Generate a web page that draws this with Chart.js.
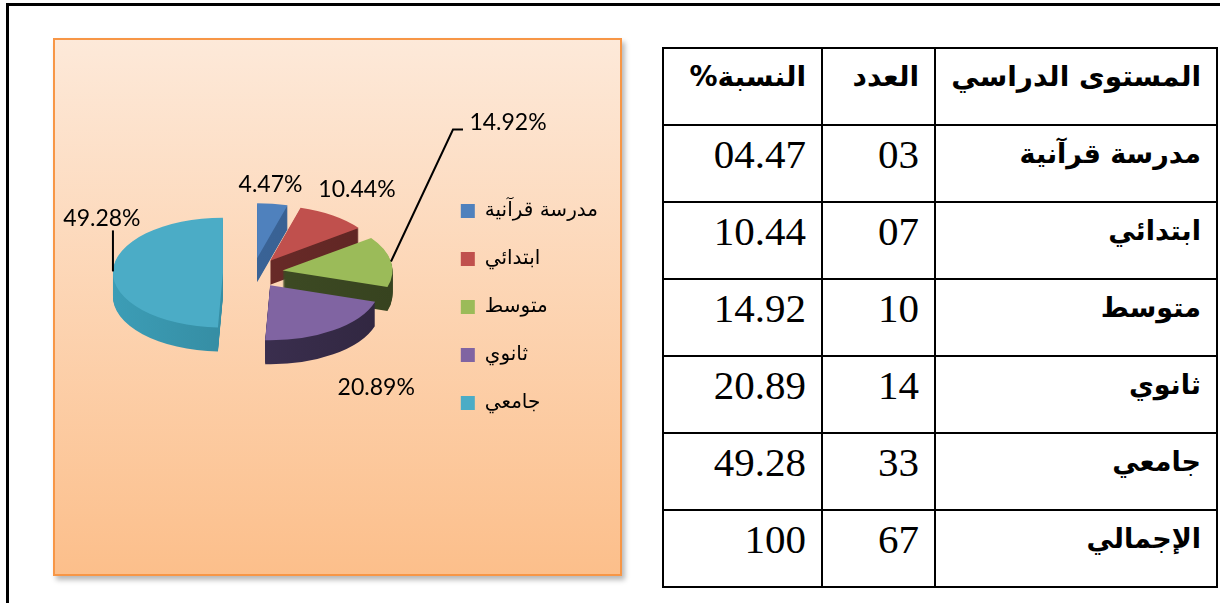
<!DOCTYPE html>
<html>
<head>
<meta charset="utf-8">
<script src="https://cdn.jsdelivr.net/npm/chart.js@4.4.0/dist/chart.umd.min.js"></script>
<style>
  body { margin: 0; width: 1225px; height: 603px; overflow: hidden; position: relative; background: #fff; }
  .rule-top { position: absolute; left: 6px; top: 3px; width: 1214px; height: 3px; background: #000; }
  .rule-left { position: absolute; left: 6px; top: 3px; width: 3px; height: 600px; background: #000; }
  #chartBox {
    position: absolute; left: 53px; top: 38px; width: 565px; height: 534px;
    border: 2px solid #f79646;
    background: linear-gradient(#fde9d9, #fcbf8b);
    box-shadow: 3px 4px 5px rgba(0, 0, 0, 0.28);
  }
  #levelChart { display: block; }
  table {
    position: absolute; left: 662px; top: 47px; width: 554px;
    border-collapse: collapse; table-layout: fixed;
  }
  td { border: 2px solid #000; padding: 4px 15px 0 15px; vertical-align: top; text-align: right; }
  tr { height: 77px; }
  .num { font: 41px "Liberation Serif", serif; }
  .name { font: bold 27px "DejaVu Sans", sans-serif; line-height: 44px; padding-top: 6px; }
  .head { font-size: 28px; }
</style>
</head>
<body>
<div class="rule-top"></div>
<div class="rule-left"></div>
<div id="chartBox"><canvas id="levelChart" width="565" height="534"></canvas></div>
<table id="levelTable" dir="rtl">
  <colgroup><col style="width:282px"><col style="width:113px"><col style="width:159px"></colgroup>
  <tbody></tbody>
</table>

<script>
// education levels, counts and shares
const levels = ['مدرسة قرآنية', 'ابتدائي', 'متوسط', 'ثانوي', 'جامعي'];
const counts = ['03', '07', '10', '14', '33'];
const percents = [4.47, 10.44, 14.92, 20.89, 49.28];
const percentText = ['04.47', '10.44', '14.92', '20.89', '49.28'];
const headers = ['المستوى الدراسي', 'العدد', 'النسبة%'];
const totalRow = ['الإجمالي', '67', '100'];

const topColors = ['#4f81bd', '#c0504d', '#9bbb59', '#8064a2', '#4bacc6'];
// walls: lit side on the left, shaded side on the right
const sideLight = ['#3f6ca3', '#74302d', '#45542a', '#463860', '#3c9db6'];
const sideDark = ['#355b8a', '#5e2523', '#37431f', '#30263f', '#2b7587'];

// fake 3d: squash the pie vertically and stack darker copies underneath
const TILT = 0.5;
const DEPTH = 24;
const EXPLODE = 30;
const LIFT = -34;

// value labels, moved from the outer edge of each slice
const labelShift = [[-2, -19], [24, -26], [117, -139], [43, 57], [-11, -53]];

// table
const tbody = document.querySelector('#levelTable tbody');
function addRow(cells, isHead) {
  const tr = document.createElement('tr');
  cells.forEach((text, i) => {
    const td = document.createElement('td');
    td.className = (i === 0 || isHead) ? 'name' : 'num';
    if (isHead) td.classList.add('head');
    td.textContent = text;
    tr.appendChild(td);
  });
  tbody.appendChild(tr);
}
addRow(headers, true);
levels.forEach((name, i) => addRow([name, counts[i], percentText[i]]));
addRow(totalRow);

function pieMiddle(chart) {
  const a = chart.chartArea;
  return (a.top + a.bottom) / 2;
}

function project(chart, x, y) {
  const cy = pieMiddle(chart);
  return { x: x, y: cy + LIFT + (y - cy) * TILT };
}

function applyTilt(chart, ctx, drop) {
  const cy = pieMiddle(chart);
  ctx.translate(0, cy + LIFT + drop);
  ctx.scale(1, TILT);
  ctx.translate(0, -cy);
}

// copy of an arc pulled out along its middle angle
function slicePiece(arc, fill) {
  const mid = (arc.startAngle + arc.endAngle) / 2;
  const piece = Object.create(arc);
  piece.x = arc.x + Math.cos(mid) * EXPLODE;
  piece.y = arc.y + Math.sin(mid) * EXPLODE;
  piece.options = Object.assign({}, arc.options, { backgroundColor: fill, borderWidth: 0, offset: 0 });
  return piece;
}

function wallFill(ctx, arc, i) {
  const r = arc.outerRadius + EXPLODE;
  const g = ctx.createLinearGradient(arc.x - r, 0, arc.x + r, 0);
  g.addColorStop(0, sideLight[i]);
  g.addColorStop(1, sideDark[i]);
  return g;
}

const pie3d = {
  id: 'pie3d',
  beforeDatasetsDraw(chart) {
    const ctx = chart.ctx;
    const arcs = chart.getDatasetMeta(0).data;
    const walls = arcs.map((arc, i) => wallFill(ctx, arc, i));
    for (let d = DEPTH; d >= 1; d--) {
      ctx.save();
      applyTilt(chart, ctx, d);
      arcs.forEach((arc, i) => slicePiece(arc, walls[i]).draw(ctx));
      ctx.restore();
    }
    ctx.save();
    applyTilt(chart, ctx, 0);
    arcs.forEach((arc, i) => slicePiece(arc, topColors[i]).draw(ctx));
    ctx.restore();
    return false;
  },
  afterDraw(chart) {
    const ctx = chart.ctx;
    const arcs = chart.getDatasetMeta(0).data;
    ctx.save();
    ctx.font = '23px Lato, "Liberation Sans", sans-serif';
    ctx.fillStyle = '#000';
    ctx.strokeStyle = '#000';
    ctx.lineWidth = 2;
    ctx.textAlign = 'center';
    ctx.textBaseline = 'middle';
    arcs.forEach((arc, i) => {
      const mid = (arc.startAngle + arc.endAngle) / 2;
      const r = arc.outerRadius + EXPLODE;
      const edge = project(chart, arc.x + Math.cos(mid) * r, arc.y + Math.sin(mid) * r);
      const lx = edge.x + labelShift[i][0];
      const ly = edge.y + labelShift[i][1];
      if (i === 2) {
        ctx.beginPath();
        ctx.moveTo(edge.x, edge.y);
        ctx.lineTo(lx - 55, ly + 7);
        ctx.lineTo(lx - 45, ly + 7);
        ctx.stroke();
      } else if (i === 4) {
        ctx.beginPath();
        ctx.moveTo(edge.x, edge.y);
        ctx.lineTo(edge.x, ly + 12);
        ctx.stroke();
      }
      ctx.fillText(percents[i].toFixed(2) + '%', lx, ly);
    });
    ctx.restore();
  }
};

new Chart(document.getElementById('levelChart'), {
  type: 'pie',
  data: {
    labels: levels,
    datasets: [{ data: percents, backgroundColor: topColors, borderWidth: 0 }]
  },
  options: {
    responsive: false,
    animation: false,
    radius: 110,
    layout: { padding: { left: 18, right: 12, top: 0, bottom: 0 } },
    plugins: {
      legend: {
        position: 'right',
        labels: {
          boxWidth: 14,
          boxHeight: 14,
          padding: 28,
          color: '#000',
          font: { family: '"DejaVu Sans", sans-serif', size: 20 }
        }
      },
      tooltip: { enabled: false }
    }
  },
  plugins: [pie3d]
});
</script>
</body>
</html>
